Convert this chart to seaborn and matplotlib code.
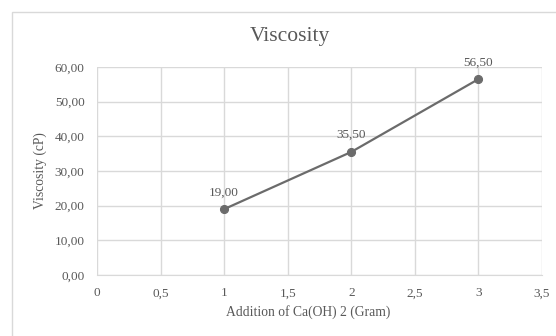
import matplotlib
matplotlib.use("Agg")
import matplotlib.pyplot as plt
import seaborn as sns
import pandas as pd
from matplotlib.ticker import FuncFormatter, MultipleLocator
from matplotlib.patches import Rectangle

additions = [1, 2, 3]
viscosity = [19.00, 35.50, 56.50]
title = "Viscosity"
xlabel = "Addition of Ca(OH) 2 (Gram)"
ylabel = "Viscosity (cP)"

sns.set_style("white")
plt.rcParams['font.family'] = ['Liberation Serif', 'DejaVu Serif']

df = pd.DataFrame({"x": additions, "y": viscosity})

W, H = 556, 336
fig = plt.figure(figsize=(W/100, H/100), dpi=100)
ax = fig.add_axes([97/W, 1 - 275/H, (542-97)/W, (275-67)/H])

fig.patches.append(Rectangle((12/W, -0.1), 1.0, 1 - 11.5/H + 0.1, transform=fig.transFigure,
                             fill=False, edgecolor="#d9d9d9", linewidth=1.0))

gray_text = "#595959"
line_col = "#6b6b6b"

sns.lineplot(data=df, x="x", y="y", ax=ax, color=line_col, linewidth=1.6,
             marker="o", markersize=5.8, markeredgecolor=line_col, markerfacecolor=line_col)

ax.set_xlim(0, 3.5)
ax.set_ylim(0, 60)
ax.xaxis.set_major_locator(MultipleLocator(0.5))
ax.yaxis.set_major_locator(MultipleLocator(10))
ax.xaxis.set_major_formatter(FuncFormatter(lambda v, p: (f"{v:g}").replace(".", ",")))
ax.yaxis.set_major_formatter(FuncFormatter(lambda v, p: f"{v:.2f}".replace(".", ",")))
ax.grid(True, color="#d9d9d9", linewidth=1.0)
ax.set_axisbelow(True)
for s in ["top", "right", "left"]:
    ax.spines[s].set_visible(False)
ax.spines["bottom"].set_color("#d9d9d9")
ax.tick_params(axis="y", length=0, labelsize=9.5, colors=gray_text, pad=9)
ax.tick_params(axis="x", length=0, labelsize=9.5, colors=gray_text, pad=9)

for xv, yv in zip(additions, viscosity):
    ax.annotate(f"{yv:.2f}".replace(".", ","), (xv, yv), xytext=(0, 10), textcoords="offset points",
                ha="center", va="baseline", fontsize=9.5, color=gray_text)

ax.set_xlabel("")
ax.set_ylabel("")
fig.text(308/W, 1 - 312/H, xlabel, ha="center", va="center", fontsize=9.8, color=gray_text)
fig.text(40/W, 1 - 171/H, ylabel, ha="center", va="center", rotation=90, fontsize=9.8, color=gray_text)
fig.text(290/W, 1 - 37/H, title, ha="center", va="center", fontsize=15.5, color=gray_text)

fig.savefig("out.png", dpi=100)
